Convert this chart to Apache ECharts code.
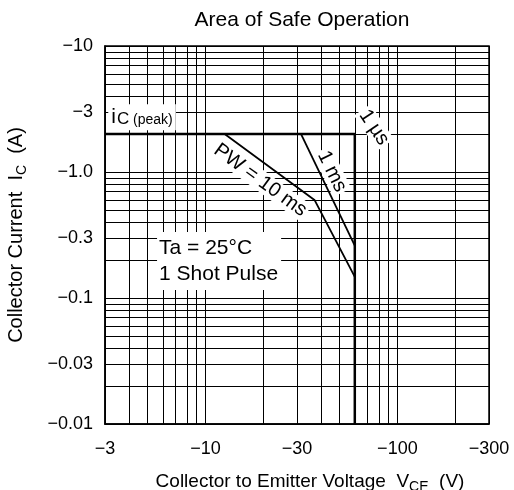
<!DOCTYPE html>
<html><head><meta charset="utf-8">
<script src="https://cdn.jsdelivr.net/npm/echarts@6/dist/echarts.min.js"></script>
<style>html,body{margin:0;padding:0;background:#fff}#c{width:514px;height:490px}</style>
</head><body><div id="c"></div>
<script>
const xTickValues = [3, 10, 30, 100, 300];
const xTickLabels = ['−3', '−10', '−30', '−100', '−300'];
const yTickValues = [0.01, 0.03, 0.1, 0.3, 1, 3, 10];
const yTickLabels = ['−0.01', '−0.03', '−0.1', '−0.3', '−1.0', '−3', '−10'];
const xGridValues = [3, 4, 5, 6, 7, 8, 9, 10, 20, 30, 40, 50, 60, 70, 80, 90, 100, 200, 300];
const yGridValues = [0.01, 0.02, 0.03, 0.04, 0.05, 0.06, 0.07, 0.08, 0.09,
  0.1, 0.2, 0.3, 0.4, 0.5, 0.6, 0.7, 0.8, 0.9,
  1, 2, 3, 4, 5, 6, 7, 8, 9, 10];
// Safe operating area limit (peak current, then VCE limit)
const limitV = [3, 60, 60];
const limitI = [2, 2, 0.01];
// PW = 1 ms
const pw1msV = [31.5, 60];
const pw1msI = [2, 0.26];
// PW = 10 ms
const pw10msV = [12.6, 37, 60];
const pw10msI = [2, 0.6, 0.147];

const FONT = '"Liberation Sans", Arial, sans-serif';
function pair(v, i) { return v.map((x, k) => [x, i[k]]); }
function lookup(vals, labels, v) {
  let best = 0, bd = Infinity;
  vals.forEach((t, k) => { const d = Math.abs(Math.log10(t) - Math.log10(v)); if (d < bd) { bd = d; best = k; } });
  return labels[best];
}

const chart = echarts.init(document.getElementById('c'), null, { renderer: 'canvas' });
chart.setOption({
  animation: false,
  backgroundColor: '#fff',
  title: {
    text: 'Area of Safe Operation', left: 297, top: 5, textAlign: 'center',
    textStyle: { fontFamily: FONT, fontSize: 21, fontWeight: 'normal', color: '#000' }
  },
  grid: { left: 105, right: 25, top: 46, bottom: 66, containLabel: false, outerBoundsMode: 'none',
    show: true, borderColor: '#000', borderWidth: 1.5, backgroundColor: 'transparent' },
  xAxis: {
    type: 'log', min: 3, max: 300,
    name: 'Collector to Emitter Voltage  {v|V}{s|CE}  (V)', nameLocation: 'middle', nameGap: 45,
    nameTextStyle: { fontFamily: FONT, fontSize: 19, color: '#000', padding: [0, 0, 0, 26],
      rich: { v: { fontFamily: FONT, fontSize: 19, color: '#000' }, s: { fontFamily: FONT, fontSize: 14, color: '#000', padding: [11, 0, 0, 0] } } },
    axisLine: { show: true, lineStyle: { color: '#000', width: 1.5 } },
    axisTick: { show: false, customValues: xGridValues },
    axisLabel: { customValues: xTickValues, margin: 16, fontFamily: FONT, fontSize: 18, color: '#000',
      formatter: v => lookup(xTickValues, xTickLabels, v) },
    splitLine: { show: true, lineStyle: { color: '#000', width: 1 } },
    minorSplitLine: { show: false }
  },
  yAxis: {
    type: 'log', min: 0.01, max: 10,
    name: 'Collector Current  {v|I}{s|C}  (A)', nameLocation: 'middle', nameGap: 76, nameRotate: 90,
    nameTextStyle: { fontFamily: FONT, fontSize: 20, color: '#000',
      rich: { v: { fontFamily: FONT, fontSize: 20, color: '#000' }, s: { fontFamily: FONT, fontSize: 14, color: '#000', padding: [11, 0, 0, 0] } } },
    axisLine: { show: true, lineStyle: { color: '#000', width: 1.5 } },
    axisTick: { show: false, customValues: yGridValues },
    axisLabel: { customValues: yTickValues, margin: 12, fontFamily: FONT, fontSize: 18, color: '#000',
      padding: [5, 0, 0, 0],
      formatter: v => lookup(yTickValues, yTickLabels, v) },
    splitLine: { show: true, lineStyle: { color: '#000', width: 1 } }
  },
  series: [
    {
      type: 'line', data: pair(limitV, limitI), symbol: 'none', silent: true,
      lineStyle: { color: '#000', width: 2.5 }, z: 5,
      markPoint: {
        symbol: 'circle', symbolSize: 0, silent: true,
        data: [
          { coord: [3.12, 2.72], label: { show: true, position: 'right', distance: 0, formatter: '{i|i}{c|C}{p| (peak)}',
              backgroundColor: '#fff', padding: [2, 3, 2, 3],
              rich: { i: { fontFamily: FONT, fontSize: 21, color: '#000', lineHeight: 22 },
                      c: { fontFamily: FONT, fontSize: 17, color: '#000', lineHeight: 20, padding: [5, 0, 0, 1] },
                      p: { fontFamily: FONT, fontSize: 14, color: '#000', lineHeight: 20, padding: [6, 0, 0, 0] } } } },
          { coord: [19.3, 0.86], label: { show: true, position: 'inside', rotate: -36, formatter: 'PW = 10 ms',
              fontFamily: FONT, fontSize: 20, color: '#000', backgroundColor: '#fff', padding: [0, 2, 0, 2] } },
          { coord: [45.6, 1.01], label: { show: true, position: 'inside', rotate: -64, formatter: '1 ms',
              fontFamily: FONT, fontSize: 20, color: '#000', backgroundColor: '#fff', padding: [0, 2, 0, 2] } },
          { coord: [75.6, 2.26], label: { show: true, position: 'inside', rotate: -56, formatter: '1 µs',
              fontFamily: FONT, fontSize: 20, color: '#000', backgroundColor: '#fff', padding: [0, 2, 0, 2] } },
          { coord: [5.6, 0.197], label: { show: true, position: 'right', distance: 0, formatter: 'Ta = 25°C\n1 Shot Pulse',
              fontFamily: FONT, fontSize: 21, lineHeight: 26, color: '#000', backgroundColor: '#fff', padding: [3, 3, 3, 2] } }
        ]
      }
    },
    { type: 'line', data: pair(pw1msV, pw1msI), symbol: 'none', silent: true, lineStyle: { color: '#000', width: 1.8 }, z: 4 },
    { type: 'line', data: pair(pw10msV, pw10msI), symbol: 'none', silent: true, lineStyle: { color: '#000', width: 1.8 }, z: 4 }
  ]
});
</script></body></html>
